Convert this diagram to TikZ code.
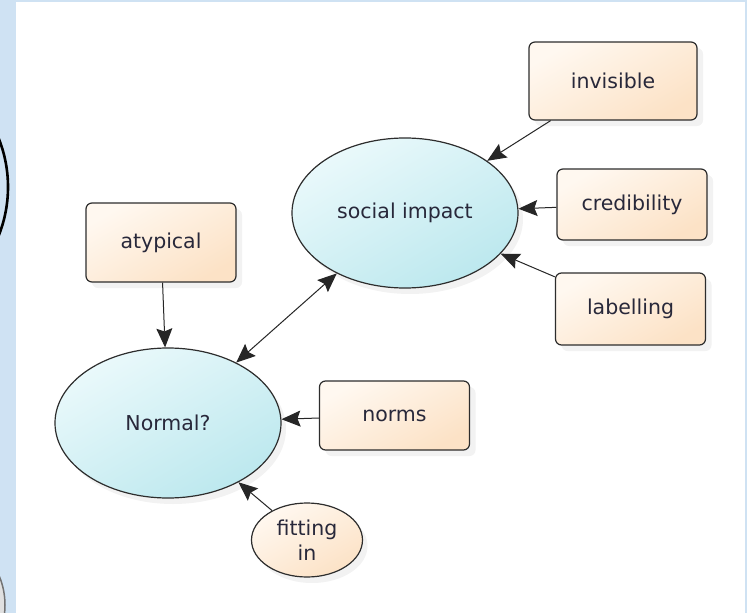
\documentclass[tikz,border=0pt]{standalone}
\usepackage{fontspec}
\setmainfont{DejaVu Sans}
\usetikzlibrary{shapes.geometric,arrows.meta,shadows}
\definecolor{bgblue}{RGB}{207,226,243}
\definecolor{textdark}{RGB}{40,40,58}
\definecolor{edgedark}{RGB}{45,45,45}
\definecolor{cyanlight}{RGB}{234,249,251}
\definecolor{cyandark}{RGB}{188,232,238}
\definecolor{peachlight}{RGB}{255,248,240}
\definecolor{peachdark}{RGB}{252,226,198}

\begin{document}
\begin{tikzpicture}[x=1pt, y=-1pt, >={Stealth[length=19pt,width=16pt,inset=3pt]},
        every node/.style={font=\fontsize{20.5}{25}\selectfont, text=textdark, inner sep=2pt},
        theme/.style={ellipse, draw=edgedark, line width=1.2pt,
            top color=cyanlight, bottom color=cyandark, shading angle=30,
            drop shadow={shadow xshift=5pt, shadow yshift=-6pt, opacity=0.10}},
        concept/.style={rectangle, rounded corners=6pt, draw=edgedark, line width=1.2pt,
            top color=peachlight, bottom color=peachdark, shading angle=30,
            minimum width=150pt, minimum height=72pt,
            drop shadow={shadow xshift=6pt, shadow yshift=-6pt, opacity=0.10}},
        link/.style={draw=black!85, line width=1pt}]
        % Page and frame
        \useasboundingbox (0,0) rectangle (747,613);
        \fill[bgblue] (0,0) rectangle (747,613);
        \fill[white] (16,2) rectangle (745,613);
        \begin{scope}
            \clip (0,0) rectangle (16,613);
            \draw[line width=2.6pt] (-123,187) circle (131pt);
            \draw[draw=black!55, fill=black!12, line width=1.5pt] (-70,605) circle (75pt);
        \end{scope}

        % Points
        \coordinate (S) at (405,213);   % social impact
        \coordinate (N) at (168,423);   % Normal?

        % Ellipses
        \node[theme, minimum width=226pt, minimum height=150pt] (social) at (S) {social impact};
        \node[theme, minimum width=226pt, minimum height=150pt] (normal) at (N) {Normal?};
        \node[theme, top color=peachlight, bottom color=peachdark, shading angle=30,
            minimum width=111pt, minimum height=74pt, align=center, inner sep=0pt] (fitting) at (307,540) {fitting\\in};

        % Boxes
        \node[concept, minimum width=168pt, minimum height=78pt] (invisible) at (613,81) {invisible};
        \node[concept, minimum height=71pt] (credibility) at (632,204.5) {credibility};
        \node[concept] (labelling) at (630.5,309) {labelling};
        \node[concept, minimum height=79pt] (atypical) at (161,242.5) {atypical};
        \node[concept, minimum height=69pt] (norms) at (394.5,415.5) {norms};

        % Arrows
        \draw[link, ->] (invisible) -- (social);
        \draw[link, ->] (credibility) -- (social);
        \draw[link, ->] (labelling) -- (social);
        \draw[link, <->] (normal) -- (social);
        \draw[link, ->] (atypical) -- (normal);
        \draw[link, ->] (norms) -- (normal);
        \draw[link, ->] (fitting) -- (normal);
    \end{tikzpicture}
\end{document}
